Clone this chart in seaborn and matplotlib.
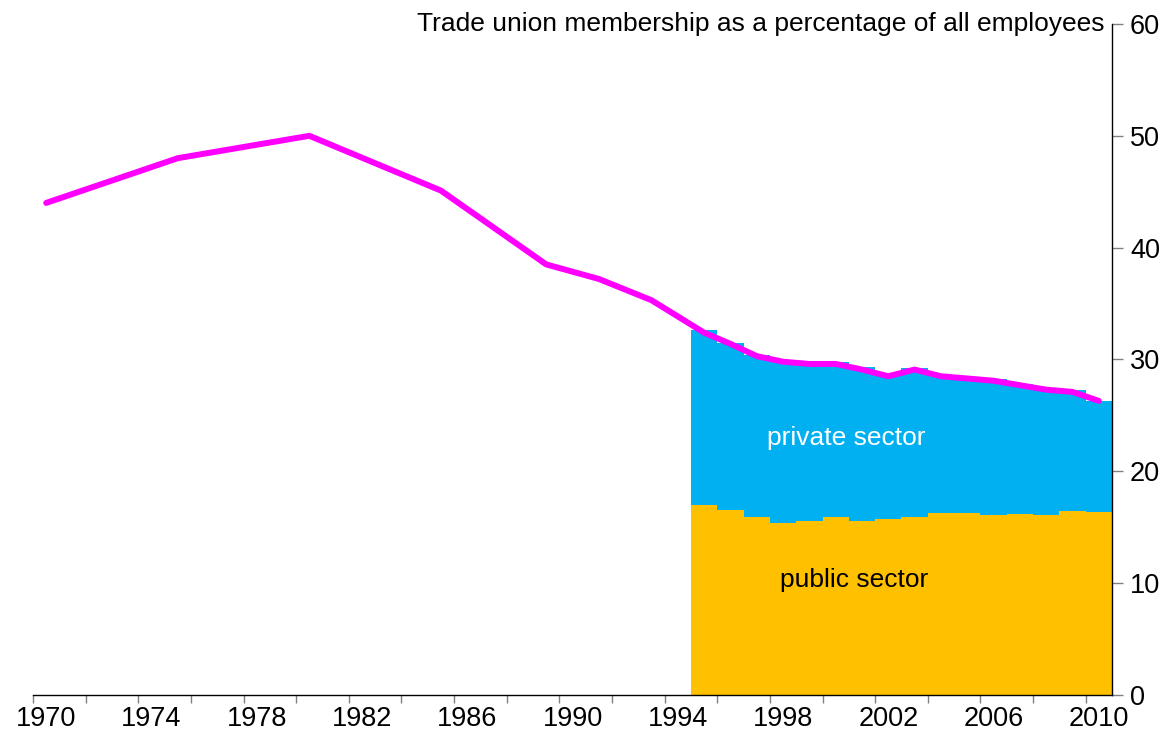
import numpy as np
import pandas as pd
import matplotlib
matplotlib.use("Agg")
import matplotlib.pyplot as plt
import seaborn as sns

# dados
anos_linha = [1970, 1975, 1980, 1985, 1989, 1991, 1993, 1995, 1996, 1997, 1998,
              1999, 2000, 2001, 2002, 2003, 2004, 2005, 2006, 2007, 2008, 2009, 2010]
total_linha = [44.0, 48.0, 50.0, 45.1, 38.5, 37.2, 35.3, 32.4, 31.4, 30.3, 29.8,
               29.6, 29.6, 29.1, 28.5, 29.1, 28.5, 28.3, 28.1, 27.7, 27.3, 27.1, 26.3]

anos_barra = list(range(1995, 2011))
total_barra = [32.6, 31.5, 30.4, 29.95, 29.75, 29.75, 29.3, 28.7, 29.25, 28.65,
               28.45, 28.25, 27.85, 27.45, 27.25, 26.3]
publico = [17.0, 16.5, 15.95, 15.4, 15.55, 15.9, 15.6, 15.75, 15.95, 16.25,
           16.3, 16.1, 16.2, 16.1, 16.45, 16.35]

titulo = "Trade union membership as a percentage of all employees"

sns.set_theme(style="white")
plt.rcParams["font.family"] = ["Liberation Sans", "DejaVu Sans"]
plt.rcParams["text.color"] = "black"
plt.rcParams["xtick.labelcolor"] = "black"
plt.rcParams["ytick.labelcolor"] = "black"

df_linha = pd.DataFrame({"ano": anos_linha, "valor": total_linha})
df_barra = pd.DataFrame({"ano": anos_barra, "total": total_barra, "publico": publico})

fig = plt.figure(figsize=(11.72, 7.49), dpi=100)
ax = fig.add_axes([0.0282, 0.0721, 0.9206, 0.8959])

# barras empilhadas: total (privado em cima) e publico por baixo
sns.barplot(data=df_barra, x="ano", y="total", native_scale=True, width=1,
            color="#00B0F0", saturation=1, edgecolor="none", linewidth=0, ax=ax)
sns.barplot(data=df_barra, x="ano", y="publico", native_scale=True, width=1,
            color="#FFC000", saturation=1, edgecolor="none", linewidth=0, ax=ax)

sns.lineplot(data=df_linha, x="ano", y="valor", color="#FF00FF", linewidth=4.3,
             solid_capstyle="round", ax=ax, zorder=5)

ax.set_xlim(1969.5, 2010.5)
ax.set_ylim(0, 60)
ax.set_xlabel("")
ax.set_ylabel("")

# eixo x: rotulos a cada 4 anos, marcas a cada 2
ax.set_xticks(range(1970, 2011, 4))
ax.set_xticklabels([str(a) for a in range(1970, 2011, 4)], fontsize=19.5, color="black")
ax.set_xticks(np.arange(1969.5, 2010, 2), minor=True)
ax.tick_params(axis="x", which="major", length=0, pad=8)
ax.tick_params(axis="x", which="minor", bottom=True, length=6, width=1, color="#808080",
               direction="out")

# eixo y na direita
ax.yaxis.tick_right()
ax.set_yticks(range(0, 61, 10))
ax.tick_params(axis="y", which="major", right=True, left=False, length=8, width=1,
               color="#808080", direction="out", labelsize=19.5, labelcolor="black", pad=5)

for lado in ["top", "left"]:
    ax.spines[lado].set_visible(False)
for lado in ["bottom", "right"]:
    ax.spines[lado].set_color("black")
    ax.spines[lado].set_linewidth(1)

ax.text(2000.4, 23, "private sector", color="white", fontsize=19, ha="center", va="center")
ax.text(2000.7, 10.3, "public sector", color="black", fontsize=19, ha="center", va="center")

ax.annotate(titulo, xy=(1, 1), xycoords="axes fraction", xytext=(-7, 0),
            textcoords="offset pixels", ha="right", va="center", fontsize=19, color="black")

plt.savefig("out.png", dpi=100)
